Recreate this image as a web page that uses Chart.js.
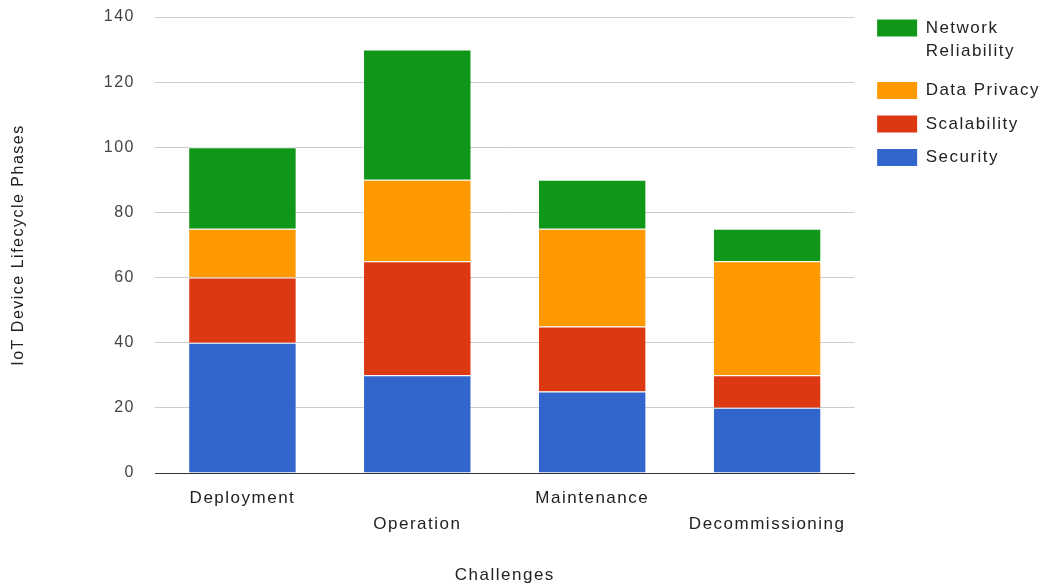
<!DOCTYPE html>
<html>
<head>
<meta charset="utf-8">
<script src="https://cdn.jsdelivr.net/npm/chart.js@4/dist/chart.umd.min.js"></script>
<style>
  html, body { margin: 0; padding: 0; background: #fff; }
  #wrap { width: 1051px; height: 586px; }
</style>
</head>
<body>
<div id="wrap"><canvas id="myChart" width="1051" height="586"></canvas></div>
<script>
const phases = ["Deployment", "Operation", "Maintenance", "Decommissioning"];
const security = [40, 30, 25, 20];
const scalability = [20, 35, 20, 10];
const dataPrivacy = [15, 25, 30, 35];
const networkReliability = [25, 40, 15, 10];
const yTicks = [0, 20, 40, 60, 80, 100, 120, 140];

const FONT = "Arial, 'Liberation Sans', sans-serif";
const SPACING = "1.5px"; // reference text is set loose

// letter spacing lives on the context state, which a resize wipes
const spacingPlugin = {
  id: "spacing",
  beforeUpdate: (chart) => { chart.ctx.letterSpacing = SPACING; },
  beforeLayout: (chart) => { chart.ctx.letterSpacing = SPACING; },
  beforeDraw: (chart) => { chart.ctx.letterSpacing = SPACING; },
};

// nudge the legend away from the plot and up a little
const legendShift = {
  id: "legendShift",
  afterLayout: (chart) => {
    const lg = chart.legend;
    if (!lg) return;
    lg.left += 6; lg.right += 6;
    lg.top -= 14; lg.bottom -= 14;
  },
};

document.addEventListener("DOMContentLoaded", () => {
  const ctx = document.getElementById("myChart").getContext("2d");

  const mk = (label, data, color) => ({
    label,
    data,
    backgroundColor: color,
    borderColor: "#ffffff",
    borderWidth: { top: 1 },
    borderSkipped: "start",
    categoryPercentage: 0.61,
    barPercentage: 1.0,
  });

  new Chart(ctx, {
    type: "bar",
    data: {
      labels: phases,
      datasets: [
        mk("Security", security, "#3366cc"),
        mk("Scalability", scalability, "#dc3912"),
        mk("Data Privacy", dataPrivacy, "#ff9900"),
        mk("Network Reliability", networkReliability, "#109618"),
      ],
    },
    plugins: [spacingPlugin, legendShift],
    options: {
      responsive: false,
      animation: false,
      layout: { padding: { top: 17, right: 7, left: 6, bottom: 0 } },
      plugins: {
        tooltip: { enabled: false },
        legend: {
          position: "right",
          align: "start",
          reverse: true,
          labels: {
            boxWidth: 40,
            boxHeight: 17,
            color: "#222",
            font: { family: FONT, size: 17, lineHeight: 1.35 },
            padding: 16.5,
            generateLabels: (chart) => {
              const items = Chart.defaults.plugins.legend.labels.generateLabels(chart);
              items.forEach((it) => {
                it.lineWidth = 0;
                if (it.text === "Network Reliability") it.text = ["Network", "Reliability"];
              });
              return items;
            },
          },
        },
      },
      scales: {
        x: {
          stacked: true,
          grid: { display: false, drawTicks: false },
          border: { display: true, color: "#333", width: 1 },
          ticks: {
            color: "#222",
            font: { family: FONT, size: 17, lineHeight: 1.53 },
            padding: 12,
            maxRotation: 0,
            autoSkip: false,
            callback: function (value, index) {
              const lbl = this.getLabelForValue(value);
              return index % 2 === 1 ? ["", lbl] : lbl;
            },
          },
          title: {
            display: true,
            text: "Challenges",
            color: "#222",
            font: { family: FONT, size: 17 },
            padding: { top: 0, bottom: 0 },
          },
          afterFit: (scale) => { scale.height = 113; },
        },
        y: {
          stacked: true,
          min: 0,
          max: 140,
          afterBuildTicks: (scale) => { scale.ticks = yTicks.map((v) => ({ value: v })); },
          grid: { color: "#cccccc", drawTicks: false },
          border: { display: false },
          ticks: {
            color: "#444",
            font: { family: FONT, size: 16 },
            padding: 20,
          },
          title: {
            display: true,
            text: "IoT Device Lifecycle Phases",
            color: "#222",
            font: { family: FONT, size: 16 },
            padding: { top: 3, bottom: 30 },
          },
          afterFit: (scale) => {
            scale.width = 149;
            scale.paddingTop = 0; // tick padding would otherwise inflate the top gap
          },
        },
      },
    },
  });
});
</script>
</body>
</html>
